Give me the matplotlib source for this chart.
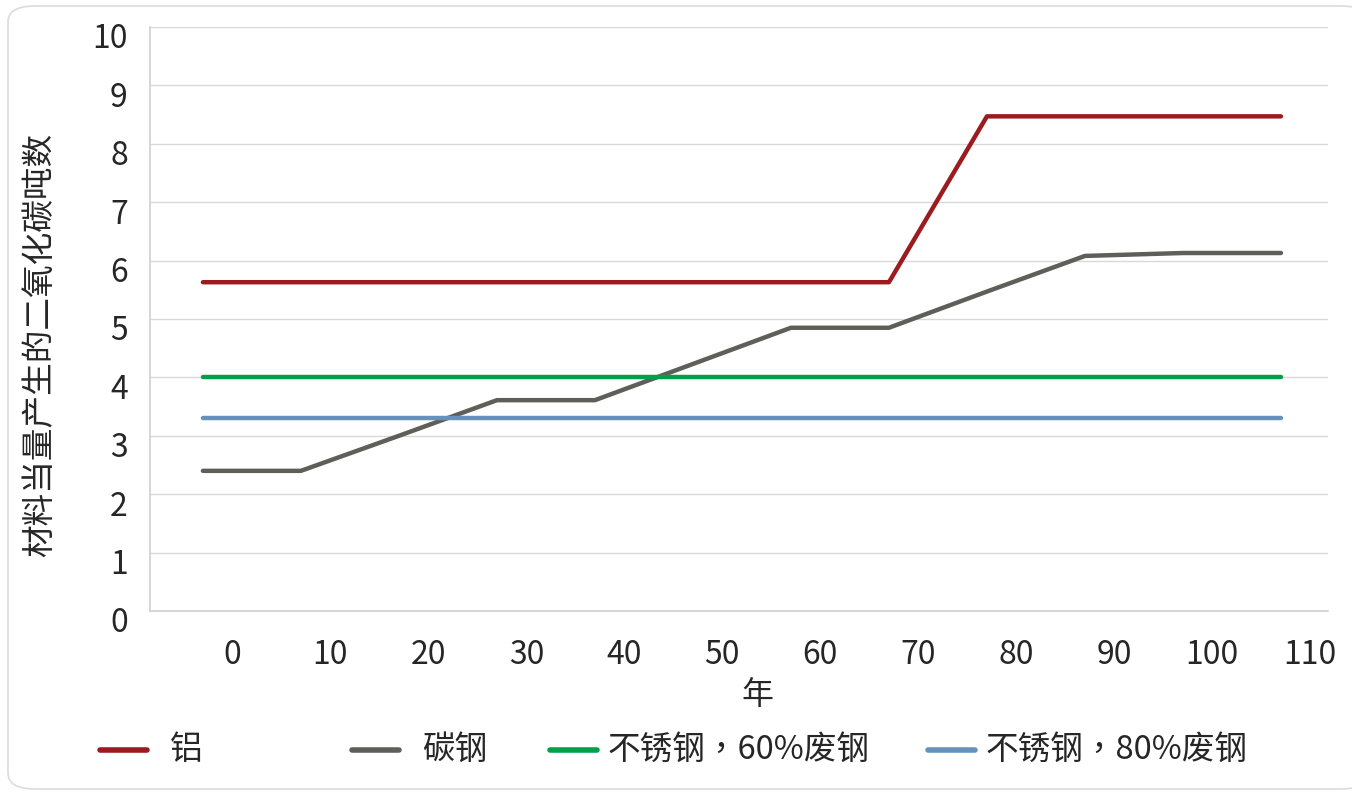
import matplotlib
matplotlib.use("Agg")
import matplotlib.pyplot as plt
from matplotlib.lines import Line2D
from matplotlib.patches import FancyBboxPatch
from matplotlib.transforms import ScaledTranslation

plt.rcParams['font.family'] = ['Noto Sans CJK SC', 'DejaVu Sans']

# data
years = [0, 10, 20, 30, 40, 50, 60, 70, 80, 90, 100, 110]
aluminium = [5.63, 5.63, 5.63, 5.63, 5.63, 5.63, 5.63, 5.63, 8.47, 8.47, 8.47, 8.47]
carbon_steel = [2.40, 2.40, 3.00, 3.61, 3.61, 4.23, 4.85, 4.85, 5.47, 6.08, 6.13, 6.13]
stainless_60 = [4.0] * 12
stainless_80 = [3.31] * 12
x_labels = ["0", "10", "20", "30", "40", "50", "60", "70", "80", "90", "100", "110"]

series = [
    ("铝", aluminium, "#9b1b1f"),
    ("碳钢", carbon_steel, "#5f5f5a"),
    ("不锈钢，60%废钢", stainless_60, "#00a04a"),
    ("不锈钢，80%废钢", stainless_80, "#6591bb"),
]

fig = plt.figure(figsize=(13.52, 7.95), dpi=100)
fig.patches.append(FancyBboxPatch((8 / 1352, 6 / 795), 1360 / 1352, 783 / 795,
                                  boxstyle="round,pad=0,rounding_size=0.02",
                                  transform=fig.transFigure, fc="white",
                                  ec="#dcdcdc", lw=1.2, zorder=-1))

ax = fig.add_axes([150 / 1352, 184 / 795, 1178 / 1352, 584 / 795])
ax.set_facecolor("none")

for name, vals, col in series:
    ax.plot(years, vals, color=col, lw=3.2, solid_capstyle="round",
            solid_joinstyle="round", zorder=3)

ax.set_xlim(-5.4, 114.8)
ax.set_ylim(0, 10)
ax.set_yticks(range(0, 11))
ax.set_xticks([y + 3 for y in years])
ax.set_xticklabels(x_labels)
ax.grid(axis="y", color="#d9d9d9", lw=1)
ax.set_axisbelow(True)
for s in ["top", "right"]:
    ax.spines[s].set_visible(False)
for s in ["left", "bottom"]:
    ax.spines[s].set_color("#d0d0d0")
    ax.spines[s].set_linewidth(1.2)
ax.tick_params(length=0, labelsize=23, colors="#262626")
ax.tick_params(axis="y", pad=16)
ax.tick_params(axis="x", pad=20)
# y labels sit a little below their gridlines in the original
shift = ScaledTranslation(0, -0.09, fig.dpi_scale_trans)
for lab in ax.get_yticklabels():
    lab.set_transform(lab.get_transform() + shift)
for lab in ax.get_xticklabels() + ax.get_yticklabels():
    lab.set_fontweight("light")

fig.text(40 / 1352, 1 - 345 / 795, "材料当量产生的二氧化碳吨数", rotation=90,
         ha="center", va="center", fontsize=23.5, color="#262626", fontweight="light")
fig.text(757 / 1352, 1 - 695 / 795, "年", ha="center", va="center",
         fontsize=23, color="#262626", fontweight="light")

# legend, laid out like the original
leg_x = [100, 352, 550, 928]
leg_y = 1 - 750 / 795
for (name, vals, col), x0 in zip(series, leg_x):
    fig.add_artist(Line2D([x0 / 1352, (x0 + 47) / 1352], [leg_y, leg_y],
                          color=col, lw=4, solid_capstyle="round",
                          transform=fig.transFigure))
    off = 70 if x0 < 500 else 58
    fig.text((x0 + off) / 1352, leg_y, name, ha="left", va="center",
             fontsize=23.5, color="#262626", fontweight="light",
             family=['Noto Sans CJK TC', 'DejaVu Sans'])

fig.savefig("out.png", dpi=100)
